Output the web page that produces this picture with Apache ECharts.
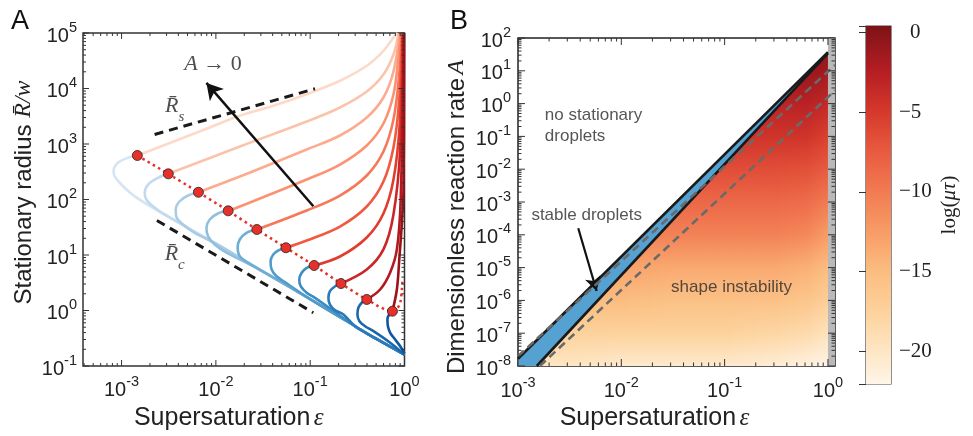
<!DOCTYPE html>
<html><head><meta charset="utf-8">
<script src="https://cdn.jsdelivr.net/npm/echarts@6/dist/echarts.min.js"></script>
<style>html,body{margin:0;padding:0;background:#fff}#c{width:973px;height:436px}</style>
</head><body><div id="c"></div>
<script>
// ================= DATA =================
// Panel A: tick labels
const xTickLabelsA = [1e-3, 1e-2, 1e-1, 1];
const yTickLabelsA = [1e-1, 1, 10, 100, 1e3, 1e4, 1e5];
// junction points (red dots)
const dotEps = [1.47e-3, 3.13e-3, 6.53e-3, 1.35e-2, 2.72e-2, 5.53e-2, 0.110, 0.212, 0.398, 0.745];
const dotR   = [621, 290, 135, 62.5, 28.8, 13.5, 6.47, 3.06, 1.58, 0.971];
// dotted continuation after the last dot
const dottedTail = [[0.830, 1.07], [0.90, 1.38], [0.938, 2.39], [0.952, 3.88]];
// common lower envelope of the blue branches
const envelope = [[1.0,0.16],[0.5,0.31],[0.3,0.52],[0.1,1.6],[0.03,5.3],[0.01,16],[3e-3,52]];
// lower (blue) branches: from the envelope through the nose to the dot
const blue1 = [[2.64e-3,57.5],[1.37e-3,115],[9.93e-4,186],[8.43e-4,263],[8.22e-4,324],[9.14e-4,458],[1.17e-3,564]];
const blue2 = [[2.86e-3,53.7],[2.15e-3,75.7],[1.83e-3,100],[1.76e-3,132],[1.91e-3,186],[2.43e-3,246]];
const blue3 = [[5.97e-3,25.1],[4.48e-3,35.5],[3.81e-3,48.8],[3.75e-3,66],[4.13e-3,93],[5.07e-3,118]];
const blue4 = [[1.30e-2,11.0],[9.73e-3,15.5],[8.26e-3,21.8],[7.94e-3,30.9],[8.61e-3,43.6],[1.05e-2,56]];
const blue5 = [[2.20e-2,7.23],[1.79e-2,9.5],[1.70e-2,13.5],[1.79e-2,19.0],[2.11e-2,25.1]];
const blue6 = [[5.40e-2,3.24],[4.40e-2,4.15],[3.90e-2,5.48],[3.80e-2,7.73],[4.06e-2,10.2],[4.58e-2,12.05]];
const blue7 = [[0.1125,1.69],[9.18e-2,2.08],[7.93e-2,2.74],[7.66e-2,3.62],[8.12e-2,4.78],[9.18e-2,5.88]];
const blue8 = [[0.225,0.847],[0.184,1.01],[0.162,1.28],[0.156,1.69],[0.162,2.23],[0.184,2.74]];
const blue9 = [[0.705,0.262],[0.469,0.424],[0.382,0.521],[0.333,0.641],[0.317,0.847],[0.324,1.12],[0.352,1.38]];
const blue10 = [[1.0,0.168],[0.90,0.227],[0.796,0.300],[0.705,0.396],[0.667,0.521],[0.659,0.689],[0.687,0.847]];
// upper (red) branches, from the dot to the top
const red1 = [[7.59e-3,1824],[1.79e-2,3221],[4.06e-2,4875],[9.18e-2,7889],[0.207,13770],[0.398,25650],[0.598,47750],[0.764,82990],[0.836,1e5]];
const red2 = [[1.795e-2,901],[9.18e-2,2541],[0.207,4550],[0.398,8830],[0.598,17870],[0.764,41000],[0.867,1e5]];
const red3 = [[1.795e-2,259],[9.18e-2,796],[0.207,1422],[0.398,3000],[0.598,6880],[0.764,20230],[0.889,1e5]];
const red4 = [[1.795e-2,74.8],[9.18e-2,229],[0.207,427],[0.398,940],[0.598,2340],[0.764,7800],[0.857,33300],[0.911,1e5]];
const red5 = [[9.18e-2,63.4],[0.207,118],[0.398,271],[0.598,733],[0.764,2760],[0.879,17870],[0.934,1e5]];
const red6 = [[9.18e-2,18.2],[0.207,32.6],[0.398,74.8],[0.598,211],[0.764,865],[0.879,6340],[0.945,1e5]];
const red7 = [[0.207,9.40],[0.398,20.7],[0.598,56],[0.764,229],[0.889,2245],[0.957,1e5]];
const red8 = [[0.398,5.48],[0.598,12.6],[0.764,53.7],[0.90,796],[0.969,1e5]];
const red9 = [[0.552,2.39],[0.705,4.84],[0.830,12.6],[0.911,100],[0.981,1e5]];
const red10 = [[0.830,2.39],[0.885,9.51],[0.938,38.0],[0.976,151],[0.993,1e5]];
// guide lines and annotations (panel A)
const RsLine = [[2.24e-3,1483],[0.1125,9886]];
const RcLine = [[2.37e-3,41.9],[0.108,0.91]];
const arrowA = [[0.108,75.7],[7.94e-3,12600]];
const labelA0 = [9.33e-3, 26900];
const labelRs = [3.66e-3, 4170];
const labelRc = [3.66e-3, 8.9];

// Panel B
const xTickLabelsB = [1e-3, 1e-2, 1e-1, 1];
const yTickLabelsB = [1e-8,1e-7,1e-6,1e-5,1e-4,1e-3,1e-2,1e-1,1,10,100];
const upperBound = [[1e-3,1.66e-8],[1.0,37]];
const lowerBound = [[1.52e-3,1e-8],[0.574,5.28],[1.0,34]];
const dashedUpper = [[1e-3,2.0e-8],[1.17,15]];
const dashedLower = [[1.63e-3,1e-8],[1.17,2.5]];
const grayBandEps = [1.0, 1.17];
const arrowB = [[3.83e-3,1.58e-4],[5.77e-3,1.93e-6]];
const labelNoStat = [1.82e-3, 0.93];
const labelStable = [4.62e-3, 3.95e-4];
const labelShape = [0.1167, 2.43e-6];
// field log(mu tau) on a coarse grid (rows: A, cols: eps)
const heatEps = [1e-3, 3.16e-3, 1e-2, 3.16e-2, 0.1, 0.316, 0.631, 1.0, 1.17];
const heatA = [1e-8,1e-7,1e-6,1e-5,1e-4,1e-3,1e-2,1e-1,1,10,40];
const heatVal = [
  [-20,-20,-20.5,-20.5,-20.5,-21,-21.5,-22,-22],
  [-17.5,-17.5,-17.5,-17.5,-17.5,-18,-18.5,-19.5,-20],
  [-15,-15,-15,-15.5,-15.5,-15.5,-16,-17,-17.5],
  [-13,-13,-13,-13.5,-13.5,-13.5,-14,-15,-15.5],
  [-10.5,-10.5,-10.5,-10.5,-10.5,-10.5,-11,-12.5,-13],
  [-8.5,-8.5,-8.5,-8.5,-8.5,-8.5,-8.8,-10,-10.5],
  [-6.5,-6.5,-6.5,-6.5,-6.5,-6.5,-6.7,-7.5,-8],
  [-4.5,-4.5,-4.5,-4.5,-4.5,-4.5,-4.5,-5.5,-6],
  [-3,-3,-3,-3,-3,-3,-2.8,-3.5,-4],
  [-1,-1,-1,-1,-1,-1,-0.8,-1.5,-2],
  [0,0,0,0,0,0,0,-0.5,-1]
];
const colorbarRange = [-22.06, 0.4];
const colorbarTickLabels = [0, -5, -10, -15, -20];

// ================= STYLE =================
const SANS = 'Liberation Sans, Arial, Helvetica, sans-serif';
const SERIF = 'Liberation Serif, DejaVu Serif, serif';
const reds = ['#fdd9c8','#fcc3ab','#fcab8f','#fb9274','#f67858','#ef5a40','#e03d2d','#cc2527','#b3191e','#9b1218'];
const blues = ['#d5e5f3','#c3daee','#a9cce4','#8fbfdd','#6eadd5','#529cca','#3c8bc2','#2a79b9','#1c67ac','#0f56a0'];
const cmapStops = [[-22.06,'#fff5e8'],[-20,'#fee6c4'],[-17.5,'#fdd29c'],[-15,'#fbbd80'],[-12.5,'#f89c66'],[-10,'#f27b52'],[-7.5,'#e85b40'],[-5,'#d6392b'],[-2.5,'#b51e24'],[0,'#861418'],[0.4,'#7a1214']];

function hex2rgb(h){return [parseInt(h.slice(1,3),16),parseInt(h.slice(3,5),16),parseInt(h.slice(5,7),16)];}
function cmap(v){
  if (v<=cmapStops[0][0]) return cmapStops[0][1];
  for (let i=1;i<cmapStops.length;i++){
    if (v<=cmapStops[i][0]){
      const a=cmapStops[i-1], b=cmapStops[i]; const t=(v-a[0])/(b[0]-a[0]);
      const ca=hex2rgb(a[1]), cb=hex2rgb(b[1]);
      return 'rgb('+ca.map((c,k)=>Math.round(c+(cb[k]-c)*t)).join(',')+')';
    }
  }
  return cmapStops[cmapStops.length-1][1];
}
const L10 = Math.log10;
function isIn(list, v){ return list.some(t => Math.abs(L10(t)-L10(v))<1e-6); }
function powLabel(list){ return v => isIn(list, v) ? '{b|10}{s|' + Math.round(L10(v)) + '}' : ''; }
const powRich = {
  b:{fontSize:20,fontFamily:SANS,color:'#222',lineHeight:26,verticalAlign:'bottom'},
  s:{fontSize:14.5,fontFamily:SANS,color:'#222',lineHeight:9,verticalAlign:'top'}
};

function logTicks(lo, hi){
  const out=[];
  for (let n=Math.floor(L10(lo))-1;n<=Math.ceil(L10(hi));n++){
    for (let k=1;k<=9;k++){ const v=k*Math.pow(10,n); if (v>=lo*0.9999 && v<=hi*1.0001) out.push([v,k===1?1:0]); }
  }
  return out;
}
function tickSeries(gi, dim, ticks, ref, majLen, minLen){
  return {
    type:'custom', xAxisIndex:gi, yAxisIndex:gi, silent:true, z:20, clip:false,
    data: ticks.map(t => dim==='x' ? [t[0], ref, t[1]] : [ref, t[0], t[1]]),
    renderItem:(params, api)=>{
      const cs=params.coordSys; const maj=api.value(2); const len=maj?majLen:minLen;
      const st={stroke:'#333',lineWidth:1};
      if (dim==='x'){
        const px=api.coord([api.value(0), api.value(1)])[0];
        return {type:'group',children:[
          {type:'line',shape:{x1:px,y1:cs.y+cs.height,x2:px,y2:cs.y+cs.height-len},style:st},
          {type:'line',shape:{x1:px,y1:cs.y,x2:px,y2:cs.y+len},style:st}]};
      } else {
        const py=api.coord([api.value(0), api.value(1)])[1];
        return {type:'group',children:[
          {type:'line',shape:{x1:cs.x,y1:py,x2:cs.x+len,y2:py},style:st},
          {type:'line',shape:{x1:cs.x+cs.width,y1:py,x2:cs.x+cs.width-len,y2:py},style:st}]};
      }
    }
  };
}

// ================= OPTION =================
const blueSets=[blue1,blue2,blue3,blue4,blue5,blue6,blue7,blue8,blue9,blue10];
const redSets=[red1,red2,red3,red4,red5,red6,red7,red8,red9,red10];
const series=[];
for (let k=0;k<10;k++){
  const dot=[dotEps[k],dotR[k]];
  const own=blueSets[k];
  const env=envelope.filter(p=>p[0]>own[0][0]*1.3);
  series.push({type:'line',xAxisIndex:0,yAxisIndex:0,data:env.concat(own,[dot]),smooth:0.35,symbol:'none',
    lineStyle:{color:blues[k],width:2.6},z:3,silent:true});
  series.push({type:'line',xAxisIndex:0,yAxisIndex:0,data:[dot].concat(redSets[k]),smooth:0.35,symbol:'none',
    lineStyle:{color:reds[k],width:2.6},z:3,silent:true});
}
series.push({type:'line',xAxisIndex:0,yAxisIndex:0,data:dotEps.map((e,i)=>[e,dotR[i]]).concat(dottedTail),smooth:0.3,symbol:'none',
  lineStyle:{color:'#e8302a',width:2.5,type:[2.5,3.5]},z:4,silent:true});
series.push({type:'scatter',xAxisIndex:0,yAxisIndex:0,data:dotEps.map((e,i)=>[e,dotR[i]]),symbolSize:10,
  itemStyle:{color:'#e8302a',borderColor:'#222',borderWidth:0.8,opacity:1},z:6,silent:true});
series.push({type:'line',xAxisIndex:0,yAxisIndex:0,data:RsLine,symbol:'none',lineStyle:{color:'#1a1a1a',width:3,type:[9,6]},z:4,silent:true});
series.push({type:'line',xAxisIndex:0,yAxisIndex:0,data:RcLine,symbol:'none',lineStyle:{color:'#1a1a1a',width:3,type:[9,6]},z:4,silent:true});
series.push({type:'line',xAxisIndex:0,yAxisIndex:0,data:[],symbol:'none',silent:true,
  markLine:{silent:true,symbol:['none','arrow'],symbolSize:[14,16],label:{show:false},
    lineStyle:{color:'#111',width:2.5,type:'solid'},
    data:[[{coord:arrowA[0]},{coord:arrowA[1]}]]}});
function textScatter(gi, pt, fmt, rich, align, vAlign){
  return {type:'scatter',xAxisIndex:gi,yAxisIndex:gi,data:[pt],symbolSize:1,itemStyle:{color:'rgba(0,0,0,0)'},silent:true,z:8,
    label:{show:true,position:'inside',formatter:fmt,rich:rich,align:align||'center',verticalAlign:vAlign||'middle'}};
}
series.push(textScatter(0,labelA0,'{m|A}{n| → 0}',{m:{fontFamily:SERIF,fontStyle:'italic',fontSize:22,color:'#222'},n:{fontFamily:SERIF,fontSize:22,color:'#222'}}));
const rbRich={m:{fontFamily:SERIF,fontStyle:'italic',fontSize:22,color:'#222',verticalAlign:'top',lineHeight:22},s:{fontFamily:SERIF,fontStyle:'italic',fontSize:15,color:'#222',verticalAlign:'bottom',lineHeight:29}};
series.push(textScatter(0,labelRs,'{m|R\u0304}{s|s}',rbRich));
series.push(textScatter(0,labelRc,'{m|R\u0304}{s|c}',rbRich));

// ---- Panel B ----
const bandBlue='#55a1d2';
series.push({type:'line',xAxisIndex:1,yAxisIndex:1,data:upperBound,symbol:'none',lineStyle:{width:0},
  areaStyle:{color:bandBlue,opacity:1,origin:'start'},z:1,silent:true});
function bndLog(e){
  const pts=lowerBound.map(p=>[L10(p[0]),L10(p[1])]);
  let i=0; while(i<pts.length-2 && e>pts[i+1][0]) i++;
  const a=pts[i], b=pts[i+1];
  return a[1]+(b[1]-a[1])*(e-a[0])/(b[0]-a[0]);
}
series.push({type:'custom',xAxisIndex:1,yAxisIndex:1,silent:true,z:2,clip:true,
  data:heatEps.slice(0,-1).map((e,i)=>[e,1e-8,i]),
  renderItem:(params,api)=>{
    const i=api.value(2); const e0=L10(heatEps[i]), e1=L10(heatEps[i+1]);
    const yTop=api.coord([1,heatA[heatA.length-1]])[1], yBot=api.coord([1,1e-8])[1];
    const rowsY=heatA.map(a=>api.coord([1,a])[1]);
    const n=Math.max(4,Math.round((e1-e0)*60)); const kids=[];
    const topMax=L10(heatA[heatA.length-1]);
    for(let j=0;j<n;j++){
      const a0=e0+(e1-e0)*j/n, a1=e0+(e1-e0)*(j+1)/n, t=((a0+a1)/2-e0)/(e1-e0);
      const t0=Math.min(bndLog(a0),topMax), t1=Math.min(bndLog(a1),topMax);
      if (t0<=-8 && t1<=-8) continue;
      const bl=api.coord([Math.pow(10,a0),1e-8]), br=api.coord([Math.pow(10,a1),1e-8]);
      const tr=api.coord([Math.pow(10,a1),Math.pow(10,Math.max(t1,-8))]), tl=api.coord([Math.pow(10,a0),Math.pow(10,Math.max(t0,-8))]);
      const stops=[];
      for(let r=heatA.length-1;r>=0;r--){
        const v=heatVal[r][i]*(1-t)+heatVal[r][i+1]*t;
        stops.push({offset:Math.min(1,Math.max(0,(rowsY[r]-yTop)/(yBot-yTop))),color:cmap(v)});
      }
      kids.push({type:'polygon',shape:{points:[[bl[0]-0.4,bl[1]],[br[0]+0.4,br[1]],[tr[0]+0.4,tr[1]],[tl[0]-0.4,tl[1]]]},
        style:{fill:new echarts.graphic.LinearGradient(0,yTop,0,yBot,stops,true),stroke:null}});
    }
    return {type:'group',children:kids};
  }});
series.push({type:'custom',xAxisIndex:1,yAxisIndex:1,silent:true,z:3,clip:true,data:[[grayBandEps[0],1e-8]],
  renderItem:(params,api)=>{
    const p0=api.coord([grayBandEps[0],1e-8]), p1=api.coord([grayBandEps[1],100]);
    return {type:'rect',shape:{x:p0[0],y:p1[1],width:p1[0]-p0[0],height:p0[1]-p1[1]},style:{fill:'#b9b9b9'}};
  }});
series.push({type:'line',xAxisIndex:1,yAxisIndex:1,data:upperBound,symbol:'none',lineStyle:{color:'#1a1a1a',width:2.6},z:4,silent:true});
series.push({type:'line',xAxisIndex:1,yAxisIndex:1,data:lowerBound,symbol:'none',lineStyle:{color:'#1a1a1a',width:2.6},z:4,silent:true});
series.push({type:'line',xAxisIndex:1,yAxisIndex:1,data:dashedUpper,symbol:'none',lineStyle:{color:'#6a6a6a',width:2.6,type:[8,5]},z:5,silent:true});
series.push({type:'line',xAxisIndex:1,yAxisIndex:1,data:dashedLower,symbol:'none',lineStyle:{color:'#6a6a6a',width:2.6,type:[8,5]},z:5,silent:true});
series.push({type:'line',xAxisIndex:1,yAxisIndex:1,data:[],symbol:'none',silent:true,
  markLine:{silent:true,symbol:['none','arrow'],symbolSize:[12,14],label:{show:false},
    lineStyle:{color:'#111',width:2.2,type:'solid'},data:[[{coord:arrowB[0]},{coord:arrowB[1]}]]}});
const txt={t:{fontFamily:SANS,fontSize:17,color:'#2a2a2a',lineHeight:21}};
series.push(textScatter(1,labelNoStat,'{t|no stationary}\n{t|droplets}',txt,'left','top'));
series.push(textScatter(1,labelStable,'{t|stable droplets}',txt));
series.push(textScatter(1,labelShape,'{t|shape instability}',txt));

// ---- Colorbar ----
series.push({type:'custom',xAxisIndex:2,yAxisIndex:2,silent:true,z:1,data:[[0,colorbarRange[0]]],
  renderItem:(params,api)=>{
    const p0=api.coord([0,colorbarRange[0]]), p1=api.coord([1,colorbarRange[1]]);
    const stops=cmapStops.slice().reverse().map(s=>({offset:(colorbarRange[1]-s[0])/(colorbarRange[1]-colorbarRange[0]),color:s[1]}));
    return {type:'rect',shape:{x:p0[0],y:p1[1],width:p1[0]-p0[0],height:p0[1]-p1[1]},
      style:{fill:new echarts.graphic.LinearGradient(0,0,0,1,stops)}};
  }});

// ticks
series.push(tickSeries(0,'x',logTicks(3.9e-4,1),1,6,3));
series.push(tickSeries(0,'y',logTicks(0.1,1e5),1,6,3));
series.push(tickSeries(1,'x',logTicks(1e-3,1.17),1,7,3.5));
series.push(tickSeries(1,'y',logTicks(1e-8,100),0.01,7,3.5));

const axisCommon={axisLine:{show:false},axisTick:{show:false},splitLine:{show:false}};
const nameRich={t:{fontFamily:SANS,fontSize:24,color:'#222'},m:{fontFamily:SERIF,fontStyle:'italic',fontSize:24,color:'#222'},g:{width:30},h:{width:14}};
const nameRichX={t:{fontFamily:SANS,fontSize:25,color:'#222'},m:{fontFamily:SERIF,fontStyle:'italic',fontSize:25,color:'#222'}};
const option={
  animation:false,
  title:[
    {text:'A',left:6,top:3,textStyle:{fontFamily:SANS,fontSize:27,fontWeight:'normal',color:'#111'}},
    {text:'B',left:445,top:3,textStyle:{fontFamily:SANS,fontSize:27,fontWeight:'normal',color:'#111'}}
  ],
  grid:[
    {left:83,top:33,width:321.5,height:333,show:true,borderColor:'#333',borderWidth:1.5,backgroundColor:'transparent'},
    {left:518,top:38,width:317,height:331,show:true,borderColor:'#222',borderWidth:1.5,backgroundColor:'transparent'},
    {left:866,top:26,width:25,height:358,show:true,borderColor:'#444',borderWidth:1.2,backgroundColor:'transparent'}
  ],
  xAxis:[
    Object.assign({gridIndex:0,type:'log',logBase:10,min:3.9e-4,max:1,
      axisLabel:{formatter:powLabel(xTickLabelsA),rich:powRich,margin:8,interval:0,showMinLabel:true,showMaxLabel:true},
      name:'{t|Supersaturation} {m|ε}',nameLocation:'middle',nameGap:40,
      nameTextStyle:{padding:[0,30,0,0],rich:nameRichX}},axisCommon),
    Object.assign({gridIndex:1,type:'log',logBase:10,min:1e-3,max:1.17,
      axisLabel:{formatter:powLabel(xTickLabelsB),rich:powRich,margin:9,interval:0,showMinLabel:true,showMaxLabel:true},
      name:'{t|Supersaturation} {m|ε}',nameLocation:'middle',nameGap:40,
      nameTextStyle:{padding:[0,44,0,0],rich:nameRichX}},axisCommon),
    {gridIndex:2,type:'value',min:0,max:1,show:false}
  ],
  yAxis:[
    Object.assign({gridIndex:0,type:'log',logBase:10,min:0.1,max:1e5,interval:1,splitNumber:6,
      axisLabel:{formatter:powLabel(yTickLabelsA),rich:powRich,margin:6,interval:0,showMinLabel:true,showMaxLabel:true},
      name:'{h|}{t|Stationary radius}  {m|R\u0304/w}',nameLocation:'middle',nameGap:47,
      nameTextStyle:{rich:nameRich}},axisCommon),
    Object.assign({gridIndex:1,type:'log',logBase:10,min:1e-8,max:100,interval:1,splitNumber:10,
      axisLabel:{formatter:powLabel(yTickLabelsB),rich:powRich,margin:7,interval:0,showMinLabel:true,showMaxLabel:true},
      name:'{t|Dimensionless reaction rate} {m|A}{g|}',nameLocation:'middle',nameGap:49,
      nameTextStyle:{rich:nameRich}},axisCommon),
    {gridIndex:2,type:'value',position:'right',min:colorbarRange[0],max:colorbarRange[1],
      axisLine:{show:false},splitLine:{show:false},
      axisTick:{show:true,inside:true,length:7,lineStyle:{color:'#333',width:1}},
      axisLabel:{margin:8,fontFamily:SERIF,fontSize:21,color:'#222',rich:{p:{width:11}},
        formatter:v=>colorbarTickLabels.includes(v)?(v===0?'{p|}0':'\u2212'+Math.abs(v)):''},
      name:'{r|log(}{i|μτ}{r|)}',nameLocation:'middle',nameGap:48,nameRotate:90,
      nameTextStyle:{rich:{r:{fontFamily:SERIF,fontSize:21,color:'#222'},i:{fontFamily:SERIF,fontStyle:'italic',fontSize:21,color:'#222'}}}}
  ],
  series:series
};
const chart=echarts.init(document.getElementById('c'),null,{renderer:'canvas'});
chart.setOption(option);
</script></body></html>
